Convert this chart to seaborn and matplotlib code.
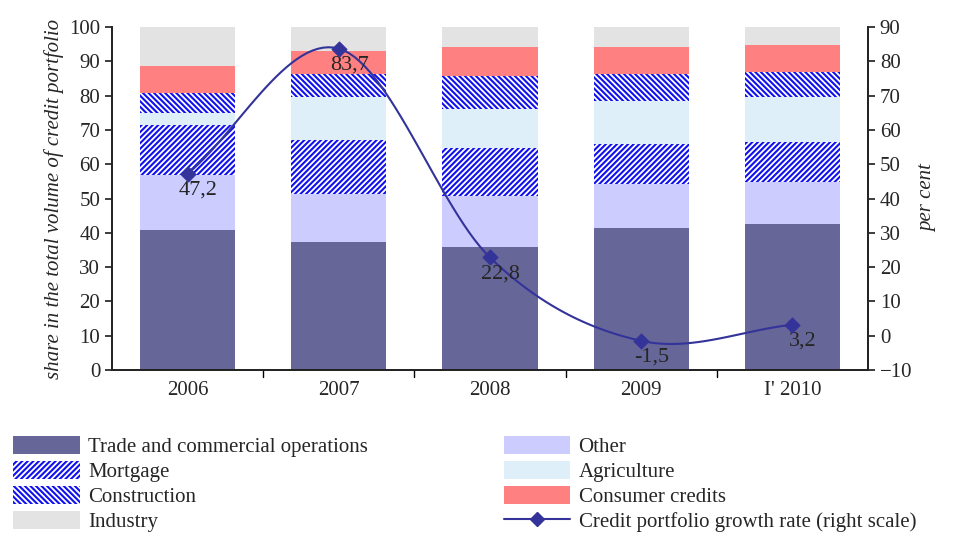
import numpy as np
import pandas as pd
import seaborn as sns
from matplotlib import pyplot as plt
from matplotlib.patches import Patch
from matplotlib.lines import Line2D

sns.set_theme(style='white')
plt.rcParams['font.family'] = ['Liberation Serif', 'DejaVu Serif']
plt.rcParams['hatch.linewidth'] = 1.5

years = ['2006', '2007', '2008', '2009', "I' 2010"]
trade = [40.8, 37.3, 35.9, 41.4, 42.6]
other = [16.1, 14.0, 14.8, 12.8, 12.2]
mortgage = [14.5, 15.8, 14.1, 11.7, 11.7]
agriculture = [3.6, 12.4, 11.4, 12.5, 13.1]
construction = [5.9, 6.8, 9.6, 7.9, 7.3]
consumer = [7.7, 6.7, 8.4, 7.9, 7.9]
industry = [11.4, 7.0, 5.8, 5.8, 5.2]
growth = [47.2, 83.7, 22.8, -1.5, 3.2]

series = [
    ('Trade and commercial operations', trade, '#666699', None),
    ('Other', other, '#ccccff', None),
    ('Mortgage', mortgage, 'white', '//////'),
    ('Agriculture', agriculture, '#deeffa', None),
    ('Construction', construction, 'white', '\\\\\\\\\\\\'),
    ('Consumer credits', consumer, '#ff8080', None),
    ('Industry', industry, '#e3e3e3', None),
]

fig = plt.figure(figsize=(9.65, 5.36), dpi=100)
ax = fig.add_axes([112 / 965, 1 - 370 / 536, 756 / 965, 343 / 536])
x = np.arange(len(years))
bottom = np.zeros(len(years))
handles = {}
for name, vals, color, hatch in series:
    ec = '#1010ee' if hatch else color
    ax.bar(x, vals, bottom=bottom, width=0.63, facecolor=color, hatch=hatch,
           edgecolor=ec, linewidth=0, label=name)
    handles[name] = Patch(facecolor=color, hatch=hatch, edgecolor=ec, linewidth=0)
    bottom += np.array(vals)

ax.set_xlim(-0.5, 4.5)
ax.set_ylim(0, 100)
ax.set_yticks(range(0, 101, 10))
ax.set_xticks(x)
ax.set_xticklabels(years)
ax.tick_params(axis='both', labelsize=15, direction='out', length=5, left=True, bottom=True)
ax.tick_params(axis='x', length=0, pad=8)
for xb in np.arange(0.5, 4.5, 1):
    ax.plot([xb, xb], [0, -2], color='black', lw=1, clip_on=False)
ax.set_ylabel('share in the total volume of credit portfolio', fontsize=15, style='italic')
ax.spines['top'].set_visible(False)
for s in ['left', 'bottom', 'right']:
    ax.spines[s].set_color('black')

ax2 = ax.twinx()
ax2.set_ylim(-10, 90)
ax2.set_yticks(range(-10, 91, 10))
ax2.tick_params(axis='y', labelsize=15, direction='out', length=5, right=True)
ax2.set_ylabel('per cent', fontsize=15, style='italic')
ax2.spines['top'].set_visible(False)

# smooth curve through the points (Catmull-Rom, for drawing only)
pts = np.column_stack([x, growth]).astype(float)
ext = np.vstack([2 * pts[0] - pts[1], pts, 2 * pts[-1] - pts[-2]])
curve = []
t = np.linspace(0, 1, 30)[:, None]
for i in range(1, len(ext) - 2):
    p0, p1, p2, p3 = ext[i - 1], ext[i], ext[i + 1], ext[i + 2]
    curve.append(0.5 * ((2 * p1) + (-p0 + p2) * t + (2 * p0 - 5 * p1 + 4 * p2 - p3) * t ** 2
                        + (-p0 + 3 * p1 - 3 * p2 + p3) * t ** 3))
curve = np.vstack(curve)
ax2.plot(curve[:, 0], curve[:, 1], color='#333399', lw=1.5)
sns.scatterplot(x=x, y=growth, ax=ax2, marker='D', s=60, color='#333399', edgecolor='#333399', zorder=5)
for xi, g in zip(x, growth):
    ax2.text(xi + 0.07, g - 2.0, f'{g:.1f}'.replace('.', ','), fontsize=16, ha='center', va='top')

order = ['Trade and commercial operations', 'Mortgage', 'Construction', 'Industry',
         'Other', 'Agriculture', 'Consumer credits']
hs = [handles[n] for n in order]
labels = order + ['Credit portfolio growth rate (right scale)']
hs.append(Line2D([], [], color='#333399', marker='D', lw=1.5, markersize=7))
fig.legend(hs, labels, loc='upper left', bbox_to_anchor=(5 / 965, 1 - 428 / 536), ncol=2,
           frameon=False, fontsize=15, handlelength=3.2, handleheight=0.9,
           labelspacing=0.2, columnspacing=6.5, borderaxespad=0, handletextpad=0.4)

fig.savefig('out.png', dpi=100)
